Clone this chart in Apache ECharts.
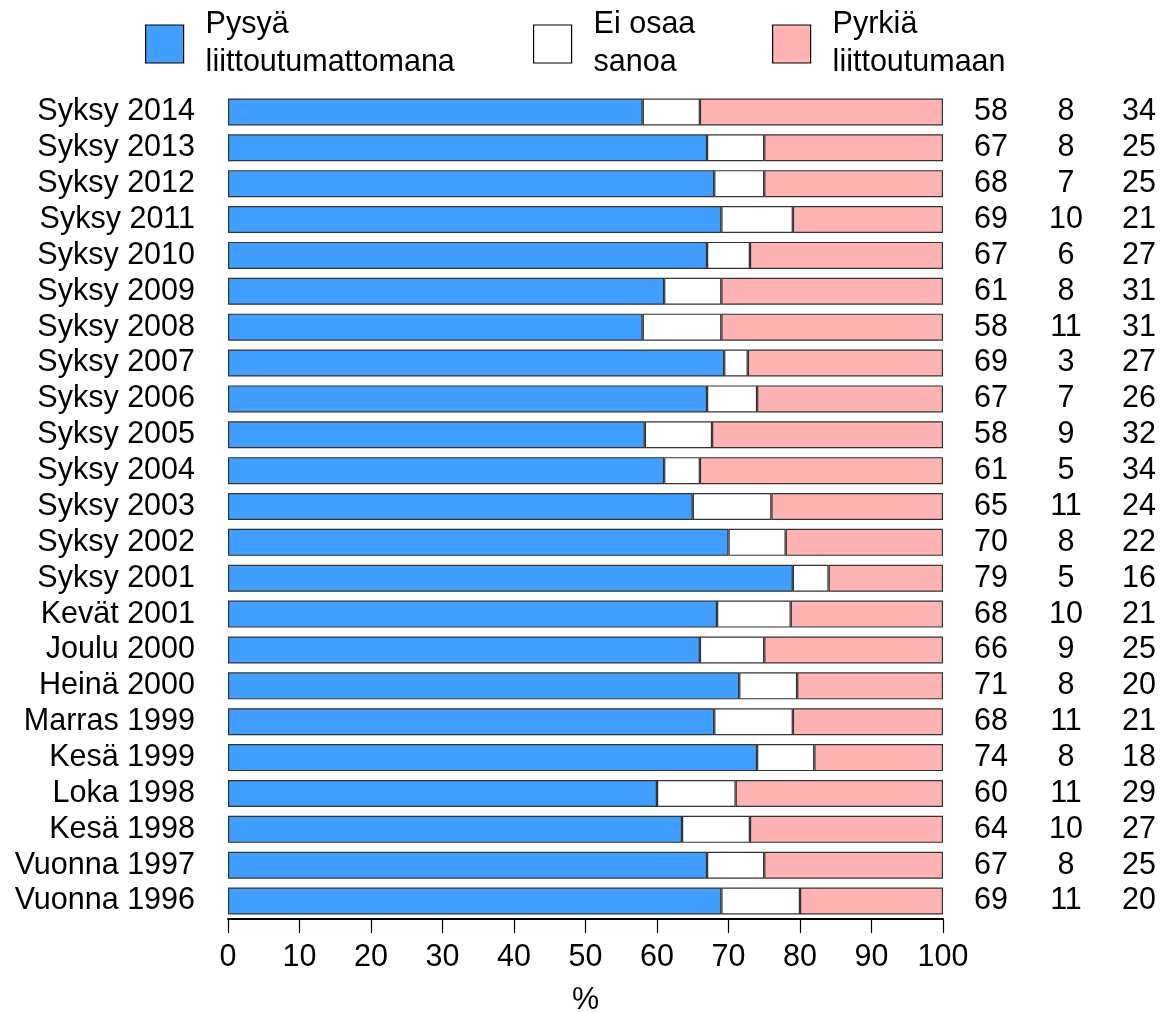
<!DOCTYPE html>
<html>
<head>
<meta charset="utf-8">
<script src="https://cdn.jsdelivr.net/npm/echarts@6/dist/echarts.min.js"></script>
<style>
  html, body { margin: 0; padding: 0; background: #fff; }
  #chart { width: 1169px; height: 1012px; }
</style>
</head>
<body>
<div id="chart"></div>
<script>
// kyselykerrat ylhäältä alas
const categories = [
  'Syksy 2014', 'Syksy 2013', 'Syksy 2012', 'Syksy 2011', 'Syksy 2010',
  'Syksy 2009', 'Syksy 2008', 'Syksy 2007', 'Syksy 2006', 'Syksy 2005',
  'Syksy 2004', 'Syksy 2003', 'Syksy 2002', 'Syksy 2001', 'Kevät 2001',
  'Joulu 2000', 'Heinä 2000', 'Marras 1999', 'Kesä 1999', 'Loka 1998',
  'Kesä 1998', 'Vuonna 1997', 'Vuonna 1996'
]
const seriesNames = ['Pysyä\nliittoutumattomana', 'Ei osaa\nsanoa', 'Pyrkiä\nliittoutumaan']

// palkkien pituudet (luettu kuvasta)
const pysya = [58, 67, 68, 69, 67, 61, 58, 69.4, 67, 58.3, 61, 65, 70, 79, 68.4, 66, 71.5, 68, 74, 60, 63.5, 67, 69]
const eiOsaa = [8, 8, 7, 10, 6, 8, 11, 3.3, 7, 9.4, 5, 11, 8, 5, 10.3, 9, 8.1, 11, 8, 11, 9.5, 8, 11]
const pyrkia = [34, 25, 25, 21, 27, 31, 31, 27.3, 26, 32.3, 34, 24, 22, 16, 21.3, 25, 20.4, 21, 18, 29, 27, 25, 20]

// oikean reunan luvut
const lblPysya = [58, 67, 68, 69, 67, 61, 58, 69, 67, 58, 61, 65, 70, 79, 68, 66, 71, 68, 74, 60, 64, 67, 69]
const lblEiOsaa = [8, 8, 7, 10, 6, 8, 11, 3, 7, 9, 5, 11, 8, 5, 10, 9, 8, 11, 8, 11, 10, 8, 11]
const lblPyrkia = [34, 25, 25, 21, 27, 31, 31, 27, 26, 32, 34, 24, 22, 16, 21, 25, 20, 21, 18, 29, 27, 25, 20]

const xTicks = [0, 10, 20, 30, 40, 50, 60, 70, 80, 90, 100]

const colors = ['#419fff', '#ffffff', '#ffb3b3']
const FONT = 'Liberation Sans, Arial, sans-serif'
const FS = 30.5

let myChart = echarts.init(document.getElementById('chart'), null, { renderer: 'canvas' })

function legendFor(i, left) {
  return {
    data: [seriesNames[i]],
    left: left,
    top: 1,
    itemWidth: 38,
    itemHeight: 38,
    icon: 'rect',
    selectedMode: false,
    itemStyle: { borderColor: '#000', borderWidth: 1.2 },
    textStyle: {
      fontFamily: FONT,
      fontSize: FS,
      lineHeight: 38,
      color: '#000',
      padding: [0, 0, 0, 17]
    }
  }
}

const seriesData = [pysya, eiOsaa, pyrkia]

myChart.setOption({
  animation: false,
  backgroundColor: '#fff',
  color: colors,
  legend: [legendFor(0, 140), legendFor(1, 528), legendFor(2, 767)],
  grid: {
    left: 228,
    right: 226,
    top: 94,
    bottom: 93,
    containLabel: false,
    outerBoundsMode: 'none'
  },
  xAxis: {
    type: 'value',
    min: 0,
    max: 100,
    interval: 10,
    name: '%',
    nameLocation: 'middle',
    nameGap: 66,
    nameTextStyle: { fontFamily: FONT, fontSize: FS, color: '#000' },
    axisLine: { show: true, lineStyle: { color: '#000', width: 2 } },
    axisTick: { show: true, length: 14, lineStyle: { color: '#000', width: 1.2 } },
    axisLabel: {
      margin: 23,
      fontFamily: FONT,
      fontSize: FS,
      color: '#000',
      formatter: function (v) { return xTicks.indexOf(v) >= 0 ? String(v) : '' }
    },
    splitLine: { show: false }
  },
  yAxis: [
    {
      type: 'category',
      data: categories,
      inverse: true,
      axisLine: { show: false },
      axisTick: { show: false },
      axisLabel: {
        interval: 0,
        margin: 33,
        fontFamily: FONT,
        fontSize: FS,
        color: '#000'
      }
    },
    {
      type: 'category',
      data: categories,
      inverse: true,
      position: 'right',
      axisLine: { show: false },
      axisTick: { show: false },
      axisLabel: {
        interval: 0,
        margin: 10,
        fontFamily: FONT,
        fontSize: FS,
        color: '#000',
        formatter: function (v, i) {
          return '{a|' + lblPysya[i] + '}{b|' + lblEiOsaa[i] + '}{c|' + lblPyrkia[i] + '}'
        },
        rich: {
          a: { width: 76, align: 'center', fontFamily: FONT, fontSize: FS, color: '#000' },
          b: { width: 74, align: 'center', fontFamily: FONT, fontSize: FS, color: '#000' },
          c: { width: 72, align: 'center', fontFamily: FONT, fontSize: FS, color: '#000' }
        }
      }
    }
  ],
  series: seriesNames.map(function (name, i) {
    return {
      name: name,
      type: 'bar',
      stack: 'total',
      barWidth: 27,
      data: seriesData[i],
      itemStyle: {
        color: colors[i],
        borderColor: '#333',
        borderWidth: 1.2
      },
      emphasis: { disabled: true }
    }
  })
})
</script>
</body>
</html>
